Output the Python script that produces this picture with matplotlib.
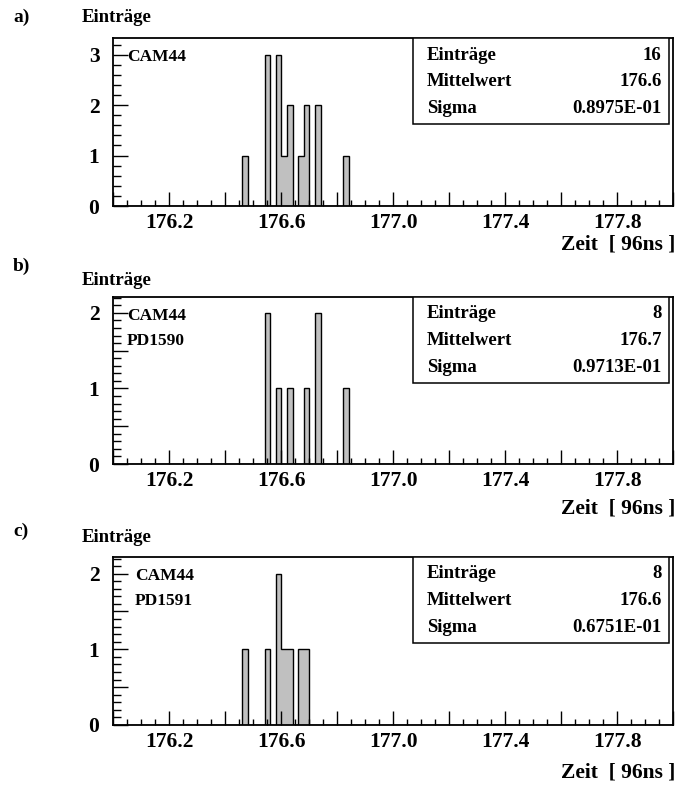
import numpy as np
import matplotlib
matplotlib.use("Agg")
import matplotlib.pyplot as plt
from matplotlib.ticker import MultipleLocator, FuncFormatter

plt.rcParams['font.family'] = ['Liberation Serif', 'DejaVu Serif']
plt.rcParams['font.weight'] = 'bold'

# histogram range / binning (ROOT style: 100 bins of 0.02)
x_min, x_max, bin_w = 176.0, 178.0, 0.02

# left edges of the filled bins and their contents
bins_a = [176.46, 176.54, 176.58, 176.60, 176.62, 176.66, 176.68, 176.72, 176.82]
counts_a = [1, 3, 3, 1, 2, 1, 2, 2, 1]
bins_b = [176.54, 176.58, 176.62, 176.68, 176.72, 176.82]
counts_b = [2, 1, 1, 1, 2, 1]
bins_c = [176.46, 176.54, 176.58, 176.60, 176.62, 176.66, 176.68]
counts_c = [1, 1, 2, 1, 1, 1, 1]

panel_tags = ["a)", "b)", "c)"]
panel_names = [["CAM44"], ["CAM44", "PD1590"], ["CAM44", "PD1591"]]
stat_entries = ["16", "8", "8"]
stat_means = ["176.6", "176.7", "176.6"]
stat_sigmas = ["0.8975E-01", "0.9713E-01", "0.6751E-01"]
y_tops = [3.33, 2.21, 2.22]
x_labels = [176.2, 176.6, 177.0, 177.4, 177.8]

W, H = 680, 785
fig = plt.figure(figsize=(W / 100, H / 100), dpi=100)

# frame pixel boxes: (top, bottom)
frames = [(38, 206), (297, 464), (557, 725)]
tag_y = [17, 266, 531]
title_y = [17, 281, 538]
name_x = [127, 127, 135]
zeit_y = [245, 509, 772]

edges = np.round(np.arange(x_min, x_max + bin_w / 2, bin_w), 4)
datasets = [(bins_a, counts_a), (bins_b, counts_b), (bins_c, counts_c)]

for i, (lefts, cnts) in enumerate(datasets):
    top, bot = frames[i]
    ax = fig.add_axes([113.3 / W, 1 - bot / H, 560 / W, (bot - top) / H])
    h = np.zeros(len(edges) - 1)
    for xl, c in zip(lefts, cnts):
        h[int(round((xl - x_min) / bin_w))] = c
    ax.stairs(h, edges, fill=True, color='#c0c0c0')
    ax.stairs(h, edges, color='black', linewidth=1.0)
    ax.set_xlim(x_min, x_max)
    ax.set_ylim(0, y_tops[i])

    ax.xaxis.set_major_locator(MultipleLocator(0.2))
    ax.xaxis.set_minor_locator(MultipleLocator(0.05))
    ax.xaxis.set_major_formatter(FuncFormatter(
        lambda v, p: f"{v:.1f}" if any(abs(v - l) < 1e-6 for l in x_labels) else ""))
    if i == 0:
        ax.yaxis.set_major_locator(MultipleLocator(1))
        ax.yaxis.set_minor_locator(MultipleLocator(0.2))
    else:
        ax.yaxis.set_major_locator(MultipleLocator(0.5))
        ax.yaxis.set_minor_locator(MultipleLocator(0.1))
    ax.yaxis.set_major_formatter(FuncFormatter(
        lambda v, p: f"{int(round(v))}" if abs(v - round(v)) < 1e-6 else ""))

    ax.tick_params(which='both', direction='in', top=False, right=False, width=1.0)
    ax.tick_params(axis='x', which='major', length=10, pad=5, labelsize=15.5)
    ax.tick_params(axis='x', which='minor', length=4.5)
    ax.tick_params(axis='y', which='major', length=11, pad=10, labelsize=15.5)
    ax.tick_params(axis='y', which='minor', length=6)
    for s in ax.spines.values():
        s.set_linewidth(1.3)

    # stats box
    bx0, bx1 = 413.3, 669
    by1 = top + 86
    ax.add_patch(plt.Rectangle((bx0 / W, 1 - by1 / H), (bx1 - bx0) / W, 86 / H,
                               transform=fig.transFigure, fill=True,
                               facecolor='white', edgecolor='black',
                               linewidth=1.1, zorder=5))
    rows = [("Einträge", stat_entries[i]), ("Mittelwert", stat_means[i]),
            ("Sigma", stat_sigmas[i])]
    for k, (lbl, val) in enumerate(rows):
        yy = 1 - (top + 17 + k * 26.7) / H
        fig.text(426.7 / W, yy, lbl, ha='left', va='center', fontsize=13.5,
                 fontweight='bold', zorder=6)
        fig.text(661.7 / W, yy, val, ha='right', va='center', fontsize=13.5,
                 fontweight='bold', zorder=6)

    for k, nm in enumerate(panel_names[i]):
        fig.text(name_x[i] / W, 1 - (top + 19 + k * 25) / H, nm, ha='left',
                 va='center', fontsize=12.5, fontweight='bold')

    fig.text(13 / W, 1 - tag_y[i] / H, panel_tags[i], ha='left', va='center',
             fontsize=14, fontweight='bold')
    fig.text(82 / W, 1 - title_y[i] / H, "Einträge", ha='left', va='center',
             fontsize=13.5, fontweight='bold')
    fig.text(675 / W, 1 - zeit_y[i] / H, "Zeit  [ 96ns ]", ha='right',
             va='center', fontsize=15.5, fontweight='bold')

fig.savefig("out.png", dpi=100)
